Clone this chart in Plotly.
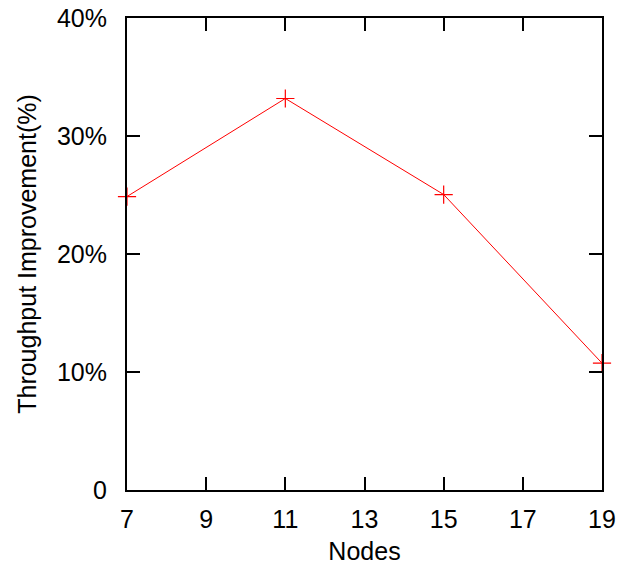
import plotly.graph_objects as go

nodes = [7, 11, 15, 19]
improvement = [24.87, 33.18, 25.04, 10.75]
y_tick_vals = [0, 10, 20, 30, 40]
y_tick_text = ["0", "10%", "20%", "30%", "40%"]
x_tick_vals = [7, 9, 11, 13, 15, 17, 19]

fig = go.Figure()
fig.add_trace(go.Scatter(
    x=nodes, y=improvement, mode="lines+markers",
    line=dict(color="#ff0000", width=1),
    marker=dict(symbol="cross-thin", size=13, line=dict(color="#ff0000", width=1.2), color="#ff0000"),
    showlegend=False, cliponaxis=False,
))

font = dict(family="Liberation Sans, Arial, sans-serif", size=25, color="black")
fig.update_layout(
    width=626, height=571,
    margin=dict(l=127, r=24, t=18, b=81),
    paper_bgcolor="white", plot_bgcolor="white",
    font=font,
)
fig.update_xaxes(
    range=[7, 19], tickvals=x_tick_vals, ticks="inside", ticklen=13, tickwidth=2,
    tickcolor="black", showline=True, linecolor="black", linewidth=2, mirror="allticks",
    showgrid=False, zeroline=False, ticklabelstandoff=6, automargin=False,
    title=dict(text="Nodes", font=font, standoff=10),
    tickfont=font,
)
fig.update_yaxes(
    range=[0, 40], tickvals=y_tick_vals, ticktext=y_tick_text, ticks="inside", ticklen=13,
    tickwidth=2, tickcolor="black", showline=True, linecolor="black", linewidth=2,
    mirror="allticks", showgrid=False, zeroline=False, ticklabelstandoff=13, automargin=False,
    title=dict(text="Throughput Improvement(%)", font=font, standoff=13),
    tickfont=font,
)
fig.write_html("out.html")
